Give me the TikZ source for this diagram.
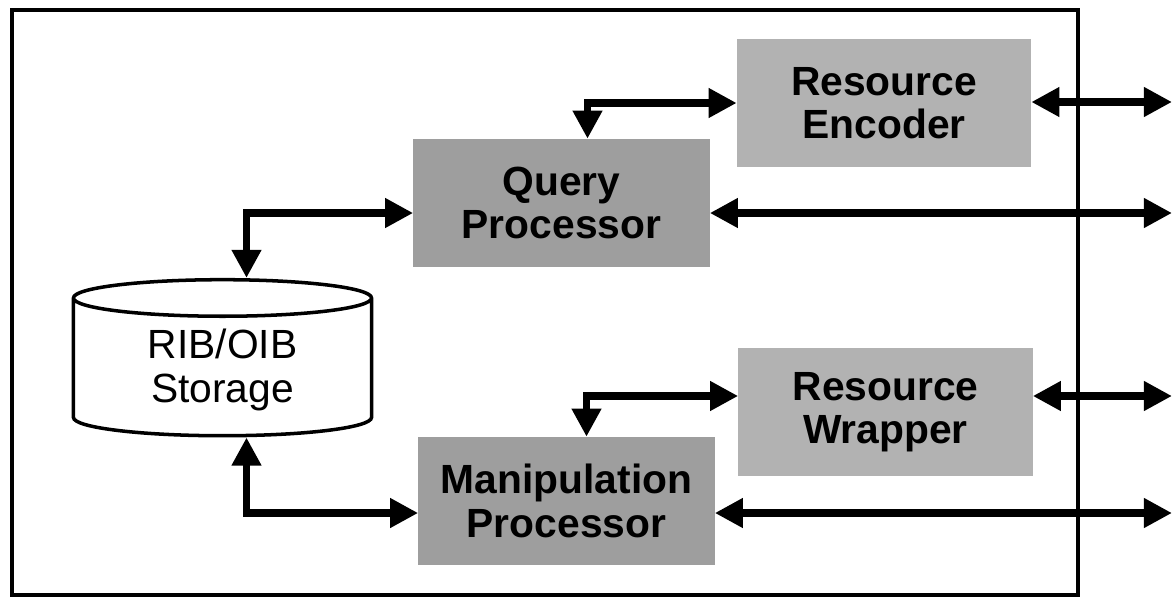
\documentclass[tikz,border=0pt]{standalone}
\usepackage{fontspec}
\setmainfont{Liberation Sans}
\usetikzlibrary{arrows.meta,shapes.geometric}

\definecolor{procgray}{gray}{0.62}
\definecolor{resgray}{gray}{0.70}

\tikzset{
  boxtext/.style={align=center, font={\fontsize{29}{31}\selectfont}},
  procbox/.style={boxtext, font={\fontsize{29}{31}\selectfont\bfseries}, fill=procgray,
    minimum width=7.4cm, minimum height=3.2cm},
  resbox/.style={boxtext, font={\fontsize{29}{31}\selectfont\bfseries}, fill=resgray,
    minimum width=7.35cm, minimum height=3.2cm},
  store/.style={boxtext, draw, line width=2.5pt, cylinder, shape border rotate=90, aspect=0.23,
    minimum width=7.45cm, minimum height=3.9cm},
  link/.style={line width=5.5pt, {Triangle[length=20pt,width=20pt]}-{Triangle[length=20pt,width=20pt]}}
}

\begin{document}
\begin{tikzpicture}[x=0.025cm, y=-0.025cm]
\useasboundingbox (0,0) rectangle (1173,599);
\draw[line width=3.5pt] (12,10) rectangle (1078,595);

\node [resbox] (enc) at (884,103) {Resource\\Encoder};
\node [procbox] (qp) at (561.5,203) {Query\\Processor};
\node [store] (st) at (222.5,370) {RIB/OIB\\Storage};
\node [resbox] (rw) at (885.5,412) {Resource\\Wrapper};
\node [procbox] (mp) at (566.5,501) {Manipulation\\Processor};

\coordinate (oe) at (1172,102);
\coordinate (oq) at (1172,213);
\coordinate (ow) at (1172,396);
\coordinate (om) at (1172,513);

\draw [link] ([xshift=0.65cm]qp.north) |- (enc.west);
\draw [link] ([xshift=0.6cm]st.north) |- ([yshift=-0.25cm]qp.west);
\draw [link] ([yshift=-0.25cm]qp.east) -- (oq);
\draw [link] (enc.east |- oe) -- (oe);

\draw [link] ([xshift=0.5cm]mp.north) |- ([yshift=0.4cm]rw.west);
\draw [link] ([xshift=0.6cm]st.south) |- ([yshift=-0.3cm]mp.west);
\draw [link] ([yshift=-0.3cm]mp.east) -- (om);
\draw [link] (rw.east |- ow) -- (ow);
\end{tikzpicture}
\end{document}
